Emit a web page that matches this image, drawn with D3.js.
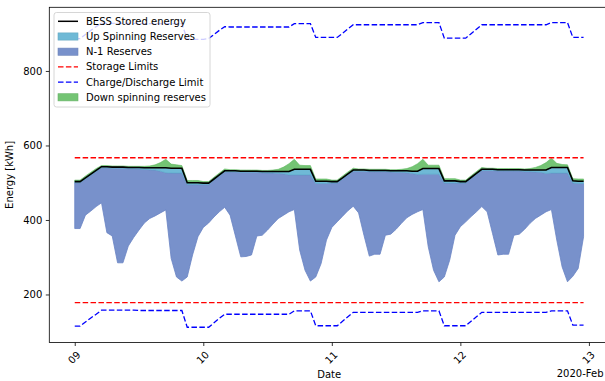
<!DOCTYPE html>
<html>
<head>
<meta charset="utf-8">
<script src="https://cdn.jsdelivr.net/npm/d3@7"></script>
<style>
  body { margin: 0; background: #fff; }
  svg { display: block; font-family: "DejaVu Sans", sans-serif; }
</style>
</head>
<body>
<svg id="chart" width="605" height="381"></svg>
<script>
// Hourly BESS schedule, 2020-02-09 00:00 .. 2020-02-12 23:00
const startDate = new Date(2020, 1, 9, 0);

const energy = [
  503,503,513,523,533,543,543,542,542,542,541,541,541,540,540,540,540,540,539,539,539,500,500,500,
  499,499,510,521,532,532,532,531,531,531,531,530,530,530,530,530,530,536,536,536,536,504,504,504,
  503,503,513,524,534,534,534,533,533,533,533,532,532,532,532,531,531,538,538,538,538,505,505,505,
  503,503,514,525,536,536,536,535,535,535,535,535,534,534,534,534,534,541,541,541,541,505,504,504
];

const upSpin = [
  3,3,3,3,3,3,3,3,3,3,3,3,4,4,5,6,9,13,13,13,13,5,5,5,
  4,4,3,3,3,3,3,3,3,3,3,3,4,4,5,6,9,15,15,15,15,6,6,6,
  4,4,3,3,3,3,3,3,3,3,3,3,4,4,5,6,9,15,15,15,15,6,6,6,
  4,4,3,3,3,3,3,3,3,3,3,3,4,4,5,6,9,15,15,15,15,6,6,6
];

const downSpin = [
  4,4,5,5,5,3,3,3,3,3,3,3,3,4,5,8,14,23,11,9,7,6,6,6,
  4,4,5,5,5,3,3,3,3,3,3,3,3,4,6,12,21,27,11,10,10,6,6,6,
  4,4,5,5,5,3,3,3,3,3,3,3,3,4,6,12,20,25,9,9,9,6,6,6,
  4,4,5,5,5,3,3,3,3,3,3,3,3,4,7,12,20,25,11,8,7,6,6,6
];

// Lowest stored energy after an N-1 event
const n1Floor = [
  377,377,413,424,436,446,366,357,285,285,330,353,373,392,404,411,419,427,297,247,236,247,306,355,
  380,392,408,422,434,413,357,301,302,306,357,359,373,389,404,413,422,428,319,265,236,247,283,346,
  380,395,410,425,437,419,359,303,308,308,359,362,375,391,406,415,422,428,328,265,234,247,292,359,
  382,395,409,422,436,422,364,306,308,308,359,362,375,391,404,413,422,428,346,274,234,249,270,355
];

const chargeLimitLow = [
  115,115,126,137,147,158,158,158,158,158,158,158,157,157,157,157,157,157,157,157,157,112,112,112,
  112,112,124,136,147,147,147,147,147,147,147,147,147,147,147,147,147,156,156,156,156,116,116,116,
  116,116,128,140,152,152,152,152,152,152,152,152,152,152,152,152,152,156,156,156,156,116,116,116,
  116,116,128,140,152,152,152,152,152,152,152,152,152,152,152,152,152,156,156,156,156,118,118,118
];

const chargeLimitHigh = [
  887,887,898,909,919,928,928,928,928,928,928,928,927,927,927,927,927,927,927,927,927,885,885,885,
  885,887,898,909,919,918,918,918,918,918,918,918,918,918,918,918,918,927,927,927,927,890,890,890,
  890,890,901,913,924,924,924,924,924,924,924,924,924,924,924,924,924,930,930,930,930,888,888,888,
  888,888,900,912,924,924,924,924,924,924,924,924,924,924,924,924,924,930,930,930,930,890,890,890
];

const storageLimits = [178, 567];
const yTicks = [200, 400, 600, 800];
const xOffsetLabel = "2020-Feb";

const legendItems = [
  { label: "BESS Stored energy", kind: "line", color: "#000", dash: null },
  { label: "Up Spinning Reserves", kind: "patch", color: "#6fb9d6" },
  { label: "N-1 Reserves", kind: "patch", color: "#7891cb" },
  { label: "Storage Limits", kind: "line", color: "#ff0000", dash: "5.5,2.4" },
  { label: "Charge/Discharge Limit", kind: "line", color: "#0000ff", dash: "5.5,2.4" },
  { label: "Down spinning reserves", kind: "patch", color: "#74c474" }
];

// ---- layout ----
const plot = { left: 49.3, right: 609, top: 7.3, bottom: 342.5 };
const svg = d3.select("#chart");

const times = energy.map((_, i) => d3.timeHour.offset(startDate, i));
const rows = times.map((t, i) => ({
  t, e: energy[i], up: upSpin[i], down: downSpin[i], floor: n1Floor[i],
  lo: chargeLimitLow[i], hi: chargeLimitHigh[i]
}));

// matplotlib-style 5% margins
const tExt = d3.extent(times);
const tSpan = tExt[1] - tExt[0];
const x = d3.scaleTime()
  .domain([new Date(+tExt[0] - 0.05 * tSpan), new Date(+tExt[1] + 0.05 * tSpan)])
  .range([plot.left, plot.right]);

const allVals = [].concat(chargeLimitLow, chargeLimitHigh, n1Floor,
  energy.map((e, i) => e + downSpin[i]), storageLimits);
const vExt = d3.extent(allVals);
const vSpan = vExt[1] - vExt[0];
const y = d3.scaleLinear()
  .domain([vExt[0] - 0.05 * vSpan, vExt[1] + 0.05 * vSpan])
  .range([plot.bottom, plot.top]);

const clipId = "plotclip";
svg.append("clipPath").attr("id", clipId).append("rect")
  .attr("x", plot.left).attr("y", plot.top)
  .attr("width", plot.right - plot.left).attr("height", plot.bottom - plot.top);

const g = svg.append("g").attr("clip-path", `url(#${clipId})`);

// ---- reserve bands ----
const n1Area = d3.area().x(d => x(d.t)).y0(d => y(d.floor)).y1(d => y(d.e - d.up));
const upArea = d3.area().x(d => x(d.t)).y0(d => y(d.e - d.up)).y1(d => y(d.e));
const downArea = d3.area().x(d => x(d.t)).y0(d => y(d.e)).y1(d => y(d.e + d.down));

g.append("path").datum(rows).attr("d", n1Area)
  .attr("fill", "#7891cb").attr("stroke", "#6a84c4").attr("stroke-width", 0.8);
g.append("path").datum(rows).attr("d", upArea)
  .attr("fill", "#6fb9d6").attr("stroke", "#5aa9cb").attr("stroke-width", 0.6);
g.append("path").datum(rows).attr("d", downArea)
  .attr("fill", "#74c474").attr("stroke", "#5fb85f").attr("stroke-width", 0.6);

// ---- stored energy ----
g.append("path").datum(rows)
  .attr("d", d3.line().x(d => x(d.t)).y(d => y(d.e)))
  .attr("fill", "none").attr("stroke", "#000").attr("stroke-width", 1.6);

// ---- limits ----
storageLimits.forEach(v => {
  g.append("path").datum(rows)
    .attr("d", d3.line().x(d => x(d.t)).y(() => y(v)))
    .attr("fill", "none").attr("stroke", "#ff0000").attr("stroke-width", 1.3)
    .attr("stroke-dasharray", "5.5,2.4");
});
["lo", "hi"].forEach(k => {
  g.append("path").datum(rows)
    .attr("d", d3.line().x(d => x(d.t)).y(d => y(d[k])))
    .attr("fill", "none").attr("stroke", "#0000ff").attr("stroke-width", 1.3)
    .attr("stroke-dasharray", "5.5,2.4");
});

// ---- axes ----
const yAxis = d3.axisLeft(y).tickValues(yTicks).tickSize(3.5).tickPadding(3.5).tickSizeOuter(0);
const yg = svg.append("g").attr("transform", `translate(${plot.left},0)`).call(yAxis);
yg.select(".domain").remove();
yg.selectAll("line").attr("stroke", "#000").attr("stroke-width", 0.8);
yg.selectAll("text").attr("font-size", 10).attr("fill", "#000")
  .attr("font-family", "DejaVu Sans");

const xAxis = d3.axisBottom(x).ticks(d3.timeDay.every(1)).tickFormat(d3.timeFormat("%d"))
  .tickSize(3.5).tickSizeOuter(0);
const xg = svg.append("g").attr("transform", `translate(0,${plot.bottom})`).call(xAxis);
xg.select(".domain").remove();
xg.selectAll("line").attr("stroke", "#000").attr("stroke-width", 0.8);
xg.selectAll("text")
  .attr("font-size", 10).attr("fill", "#000").attr("font-family", "DejaVu Sans")
  .attr("y", null).attr("dy", null)
  .attr("text-anchor", "middle").attr("dominant-baseline", "central")
  .attr("transform", "translate(-1,15) rotate(-45)");

// frame
svg.append("rect")
  .attr("x", plot.left).attr("y", plot.top)
  .attr("width", plot.right - plot.left).attr("height", plot.bottom - plot.top)
  .attr("fill", "none").attr("stroke", "#000").attr("stroke-width", 0.8);

// axis labels
svg.append("text").attr("x", (plot.left + plot.right) / 2).attr("y", 378)
  .attr("text-anchor", "middle").attr("font-size", 10).text("Date");
svg.append("text").attr("x", 603.5).attr("y", 377)
  .attr("text-anchor", "end").attr("font-size", 10).text(xOffsetLabel);
svg.append("text")
  .attr("transform", `translate(12.5,${(plot.top + plot.bottom) / 2}) rotate(-90)`)
  .attr("text-anchor", "middle").attr("font-size", 10).text("Energy [kWh]");

// ---- legend ----
const lg = svg.append("g").attr("transform", "translate(54,12.5)");
lg.append("rect").attr("x", 0).attr("y", 0).attr("width", 156).attr("height", 94.5)
  .attr("rx", 2.5).attr("fill", "#fff").attr("fill-opacity", 0.8)
  .attr("stroke", "#cccccc").attr("stroke-width", 0.8);
legendItems.forEach((it, i) => {
  const cy = 8.8 + i * 15.2;
  if (it.kind === "line") {
    lg.append("line").attr("x1", 4).attr("x2", 24).attr("y1", cy).attr("y2", cy)
      .attr("stroke", it.color).attr("stroke-width", it.dash ? 1.3 : 1.5)
      .attr("stroke-dasharray", it.dash);
  } else {
    lg.append("rect").attr("x", 4).attr("y", cy - 3.6).attr("width", 20).attr("height", 7.2)
      .attr("fill", it.color).attr("stroke", d3.color(it.color).darker(0.25)).attr("stroke-width", 0.6);
  }
  lg.append("text").attr("x", 32).attr("y", cy).attr("dominant-baseline", "central")
    .attr("font-size", 10).attr("fill", "#000").text(it.label);
});
</script>
</body>
</html>
